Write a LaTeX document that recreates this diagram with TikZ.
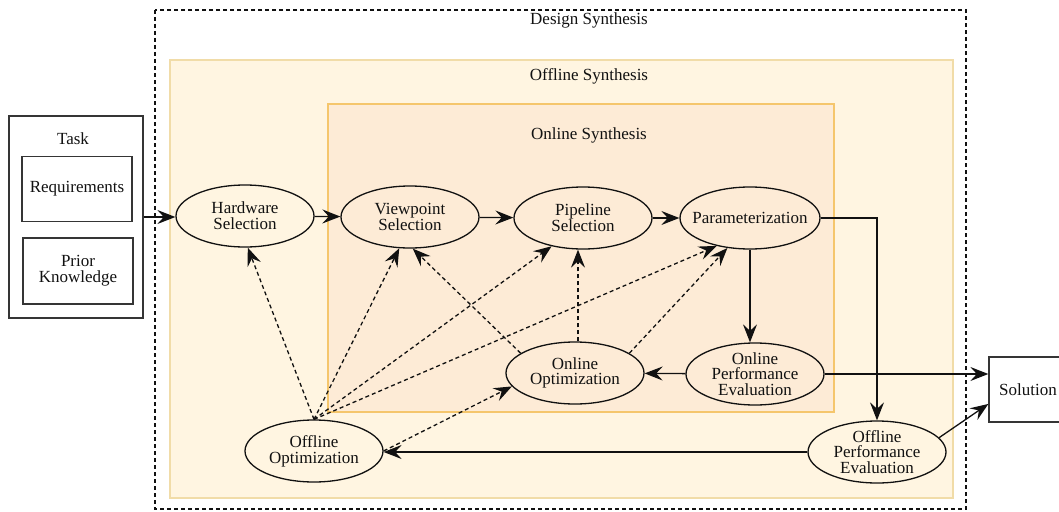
\documentclass[tikz,border=0pt]{standalone}
\usepackage{fontspec}
\setmainfont{Liberation Serif}
\usetikzlibrary{shapes.geometric,arrows.meta,calc}
\definecolor{offfill}{HTML}{FFF5E1}
\definecolor{offline}{HTML}{F1DCA8}
\definecolor{onfill}{HTML}{FDEBD6}
\definecolor{online}{HTML}{F5C66C}
\definecolor{ink}{HTML}{111111}
\begin{document}
\begin{tikzpicture}[x=1pt,y=-1pt,
  txt/.style={font=\fontsize{17}{15.7}\selectfont, text=ink, align=center, inner sep=0pt},
  stage/.style={txt, draw=ink, ellipse, line width=1.3pt, inner xsep=-16pt, inner ysep=-6pt,
    minimum width=138pt, minimum height=62pt},
  box/.style={txt, draw=ink!85, rectangle, line width=1.3pt},
  flow/.style={draw=ink, line width=1.3pt, -{Stealth[length=18pt,width=14pt,inset=6.5pt]}},
  hint/.style={flow, dash pattern=on 4pt off 3pt}]
\useasboundingbox (0,0) rectangle (1059,511);

% nested synthesis containers
\draw[draw=ink, line width=1.3pt, dash pattern=on 4pt off 3pt] (155,10) rectangle (966,509);
\draw[line width=1.3pt, draw=offline, fill=offfill] (170,60) rectangle (953,498);
\draw[line width=1.3pt, draw=online, fill=onfill] (328,104) rectangle (834,412);
\node[txt] (design) at (589,20) {Design Synthesis};
\node[txt] (offsyn) at (589,76) {Offline Synthesis};
\node[txt] (onsyn) at (589,135) {Online Synthesis};

% task inputs
\node[box, minimum width=134pt, minimum height=202pt] (task) at (76,217) {};
\node[txt] (tasklabel) at (73,139) {Task};
\node[box, minimum width=110pt, minimum height=65pt] (req) at (77,189) {Requirements};
\node[box, minimum width=110pt, minimum height=66pt] (prior) at (78,271) {Prior\\Knowledge};

% result
\node[box, minimum width=78pt, minimum height=65pt] (sol) at (1028,389.5) {Solution};

% stages
\node[stage] (hw) at (245,216) {Hardware\\Selection};
\node[stage] (vp) at (410,217) {Viewpoint\\Selection};
\node[stage] (pipe) at (583,218) {Pipeline\\Selection};
\node[stage, minimum width=140pt] (param) at (750,218) {Parameterization};
\node[stage] (onpe) at (755,374) {Online\\Performance\\Evaluation};
\node[stage] (onopt) at (575,373) {Online\\Optimization};
\node[stage] (offopt) at (314,451) {Offline\\Optimization};
\node[stage] (offpe) at (877,452) {Offline\\Performance\\Evaluation};

% main flow
\draw[flow] (task.east) -- (task.east -| hw.west);
\draw[flow] (hw) -- (vp);
\draw[flow] (vp) -- (pipe);
\draw[flow] (pipe) -- (param);
\draw[flow] (param.south) -- (param.south |- onpe.north);
\draw[flow] (param.east) -| (offpe.north);
\draw[flow] (onpe) -- (onopt);
\draw[flow] (onpe.east) -- (onpe.east -| sol.west);
\draw[flow] (offpe.13) -- (sol.200);
\draw[flow] (offpe.west) -- (offpe.west -| offopt.east);

% optimization feedback
\draw[hint] (offopt.north) -- (hw.275);
\draw[hint] (offopt.north) -- (vp.251);
\draw[hint] (offopt.north) -- (pipe.222);
\draw[hint] (offopt.north) -- (param.220);
\draw[hint] (offopt.east) -- (onopt.192);
\draw[hint] (onopt.160) -- (vp.275);
\draw[hint] ($(onopt.north)+(3,0)$) -- ($(onopt.north |- pipe.south)+(3,0)$);
\draw[hint] (onopt.20) -- (param.233);
\end{tikzpicture}
\end{document}
